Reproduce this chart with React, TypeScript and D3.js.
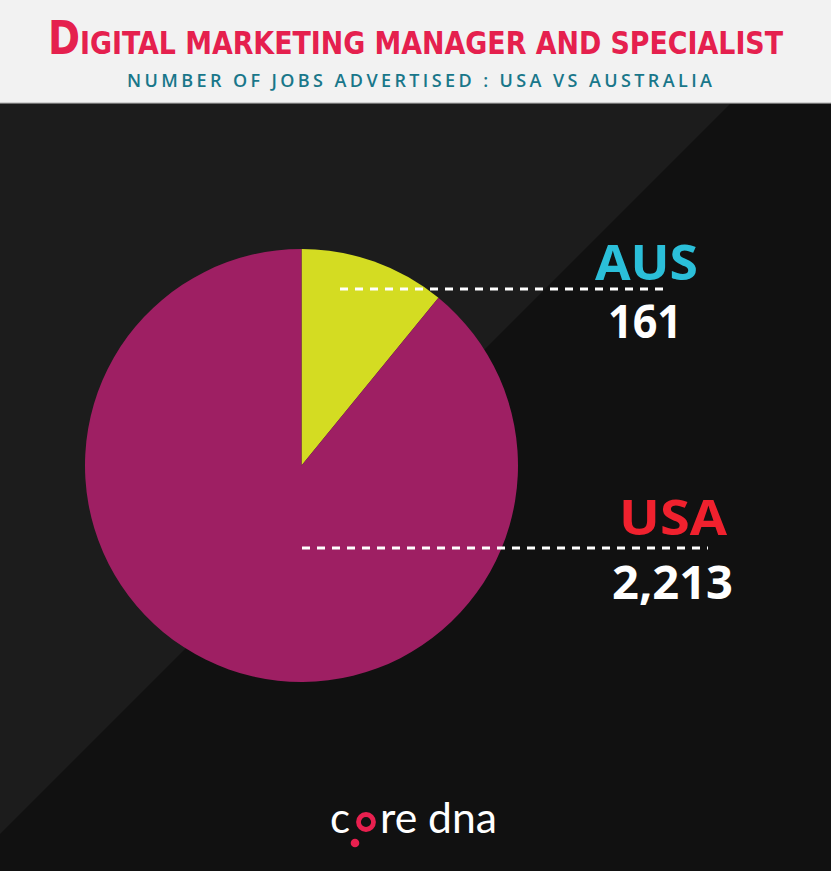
import React from "react";
import * as d3 from "d3";

const countries = ["AUS", "USA"];
const jobCounts = [161, 2213];
// slice shares as drawn in the reference picture (percent)
const sliceShares = [10.9, 89.1];
const labelColors = ["#2bbfd9", "#f0212e"];
const sliceColors = ["#d4dc22", "#9e1f63"];

const W = 831;
const H = 871;

export default function App() {
  const cx = 301.5;
  const cy = 465.5;
  const r = 216.5;
  const pie = d3.pie<number>().sort(null).value((d) => d);
  const arcs = pie(sliceShares);
  const arcGen = d3.arc<d3.PieArcDatum<number>>().innerRadius(0).outerRadius(r);
  const fmt = d3.format(",");

  // label layout
  const labelPos = [
    { nameY: 280, valY: 338, nameX: 595, nameW: 103, valX: 608, valW: 74, lineY: 289, x1: 340, x2: 669 },
    { nameY: 535, valY: 599, nameX: 619, nameW: 108, valX: 612, valW: 121, lineY: 548, x1: 302, x2: 708 },
  ];

  return (
    <svg
      width={W}
      height={H}
      viewBox={`0 0 ${W} ${H}`}
      style={{ position: "absolute", left: 0, top: 0, display: "block" }}
    >
      <rect x={0} y={0} width={W} height={H} fill="#111111" />
      <polygon points={`0,104 730,104 -37,871 0,871`} fill="#1c1c1c" />
      <rect x={0} y={0} width={W} height={103} fill="#f2f2f2" />
      <rect x={0} y={102} width={W} height={1.5} fill="#cfcfcf" />

      <text
        x={48}
        y={54}
        fill="#e5204e"
        fontFamily="'Liberation Sans Narrow', 'DejaVu Sans Condensed', sans-serif"
        fontWeight="bold"
        textLength={735}
        lengthAdjust="spacingAndGlyphs"
      >
        <tspan fontSize={46}>D</tspan>
        <tspan fontSize={32}>IGITAL MARKETING MANAGER AND SPECIALIST</tspan>
      </text>
      <text
        x={127}
        y={87}
        fill="#19778a"
        fontFamily="'Open Sans', sans-serif"
        fontWeight={600}
        fontSize={18}
        textLength={585}
        lengthAdjust="spacing"
      >
        NUMBER OF JOBS ADVERTISED : USA VS AUSTRALIA
      </text>

      <g transform={`translate(${cx},${cy})`}>
        {arcs.map((a, i) => (
          <path key={countries[i]} d={arcGen(a) || ""} fill={sliceColors[i]} />
        ))}
      </g>

      {countries.map((c, i) => {
        const p = labelPos[i];
        return (
          <g key={c}>
            <line
              x1={p.x1}
              x2={p.x2}
              y1={p.lineY}
              y2={p.lineY}
              stroke="#ffffff"
              strokeWidth={3}
              strokeDasharray="8 7"
            />
            <text
              x={p.nameX}
              y={p.nameY}
              fill={labelColors[i]}
              fontFamily="'Open Sans', sans-serif"
              fontWeight="bold"
              fontSize={49}
              textLength={p.nameW}
              lengthAdjust="spacingAndGlyphs"
            >
              {c}
            </text>
            <text
              x={p.valX}
              y={p.valY}
              fill="#ffffff"
              fontFamily="'Open Sans', sans-serif"
              fontWeight="bold"
              fontSize={46}
              textLength={p.valW}
              lengthAdjust="spacingAndGlyphs"
            >
              {fmt(jobCounts[i])}
            </text>
          </g>
        );
      })}

      <g fontFamily="Lato, 'Open Sans', sans-serif" fontWeight={400} fontSize={42} fill="#ffffff">
        <text x={330} y={833}>c</text>
        <circle cx={366} cy={822} r={7.5} fill="none" stroke="#e8204f" strokeWidth={4.8} />
        <circle cx={355} cy={843} r={4.3} fill="#e8204f" />
        <text x={380} y={833} textLength={117} lengthAdjust="spacingAndGlyphs">re dna</text>
      </g>
    </svg>
  );
}
